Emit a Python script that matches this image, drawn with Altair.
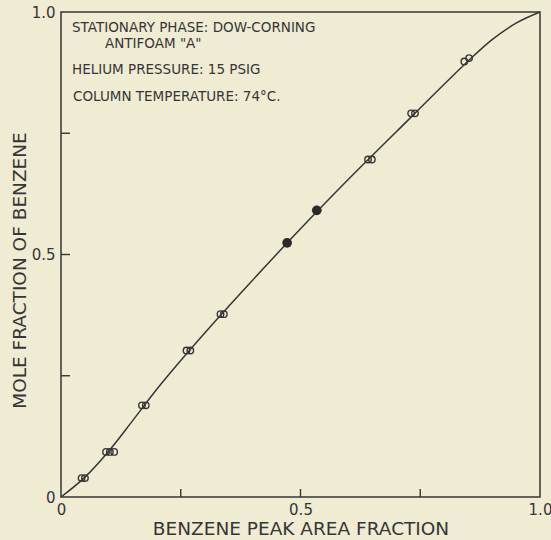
import altair as alt
import pandas as pd

# Smooth calibration curve
curve_x = [0.0, 0.05, 0.10, 0.15, 0.20, 0.30, 0.40, 0.50, 0.60, 0.70, 0.80, 0.85, 0.90, 0.95, 1.0]
curve_y = [0.0, 0.041, 0.095, 0.158, 0.222, 0.338, 0.447, 0.553, 0.655, 0.753, 0.851, 0.899, 0.943, 0.977, 1.0]

# Open-circle measurements
open_x = [0.043, 0.050, 0.094, 0.102, 0.111, 0.169, 0.177, 0.262, 0.270, 0.333, 0.340,
          0.641, 0.649, 0.731, 0.739, 0.842, 0.852]
open_y = [0.039, 0.039, 0.093, 0.093, 0.093, 0.189, 0.189, 0.302, 0.302, 0.377, 0.377,
          0.696, 0.696, 0.791, 0.791, 0.898, 0.905]

# Filled measurements
filled_x = [0.472, 0.534]
filled_y = [0.524, 0.591]

tick_pos = [0.25, 0.5, 0.75]
label_vals = [0.0, 0.5, 1.0]

notes = [
    "STATIONARY PHASE: DOW-CORNING",
    "ANTIFOAM \"A\"",
    "HELIUM PRESSURE: 15 PSIG",
    "COLUMN TEMPERATURE: 74°C.",
]

INK = "#363636"
BG = "#f0ebd3"
W, H = 479, 485

curve_df = pd.DataFrame({"x": curve_x, "y": curve_y})
open_df = pd.DataFrame({"x": open_x, "y": open_y})
filled_df = pd.DataFrame({"x": filled_x, "y": filled_y})
tick_df = pd.DataFrame({"x": tick_pos, "y": tick_pos})

xs = alt.Scale(domain=[0, 1], nice=False, zero=False)
ys = alt.Scale(domain=[0, 1], nice=False, zero=False)

lab_expr = "datum.value == 0 ? '0' : format(datum.value, '.1f')"

x_axis = alt.Axis(values=label_vals, labelExpr=lab_expr, ticks=False, domain=False, grid=False,
                  labelFont="DejaVu Sans", labelFontSize=15, labelColor=INK, labelPadding=5,
                  title="BENZENE PEAK AREA FRACTION", titleFont="DejaVu Sans", titleFontSize=18.5,
                  titleFontWeight="normal", titleColor=INK, titleBaseline="middle",
                  titleX=W / 2, titleY=31, labelFlush=False, labelOverlap=False)
y_axis = alt.Axis(values=label_vals, labelExpr=lab_expr, ticks=False, domain=False, grid=False,
                  labelFont="DejaVu Sans", labelFontSize=15, labelColor=INK, labelPadding=6,
                  title="MOLE FRACTION OF BENZENE", titleFont="DejaVu Sans", titleFontSize=18.5,
                  titleFontWeight="normal", titleColor=INK, titleBaseline="middle",
                  titleX=-42, titleY=258, labelFlush=False, labelOverlap=False)

X = alt.X("x:Q", scale=xs, axis=x_axis)
Y = alt.Y("y:Q", scale=ys, axis=y_axis)

curve = alt.Chart(curve_df).mark_line(color=INK, strokeWidth=1.5, interpolate="monotone").encode(
    x=X, y=Y,
)

opens = alt.Chart(open_df).mark_point(shape="circle", filled=False, size=42, stroke=INK,
                                      strokeWidth=1.4, opacity=1).encode(x=X, y=Y)

filled = alt.Chart(filled_df).mark_circle(size=95, color="#2a2a2a", opacity=1).encode(x=X, y=Y)

bottom_ticks = alt.Chart(tick_df).mark_rule(color=INK, strokeWidth=1.4).encode(
    x=X,
    y=alt.value(H),
    y2=alt.value(H - 8),
)
left_ticks = alt.Chart(tick_df).mark_rule(color=INK, strokeWidth=1.4).encode(
    y=Y,
    x=alt.value(0),
    x2=alt.value(9),
)

note_pos = [(11, 16), (44, 32), (11, 58), (12, 85)]
note_layers = []
for txt, (px, py) in zip(notes, note_pos):
    note_layers.append(
        alt.Chart(curve_df).transform_filter("datum.x == 0").mark_text(
            align="left", baseline="middle", font="DejaVu Sans", fontSize=13.5, color=INK
        ).encode(x=alt.value(px), y=alt.value(py), text=alt.value(txt))
    )

chart = alt.layer(curve, opens, filled, bottom_ticks, left_ticks, *note_layers).properties(
    width=W, height=H,
    autosize=alt.AutoSizeParams(type="none"),
    padding={"left": 61, "top": 12, "right": 11, "bottom": 43},
    background=BG,
).configure_view(stroke=INK, strokeWidth=1.5, fill=BG)

chart.save("out.html", embed_options={"renderer": "svg", "actions": False})
